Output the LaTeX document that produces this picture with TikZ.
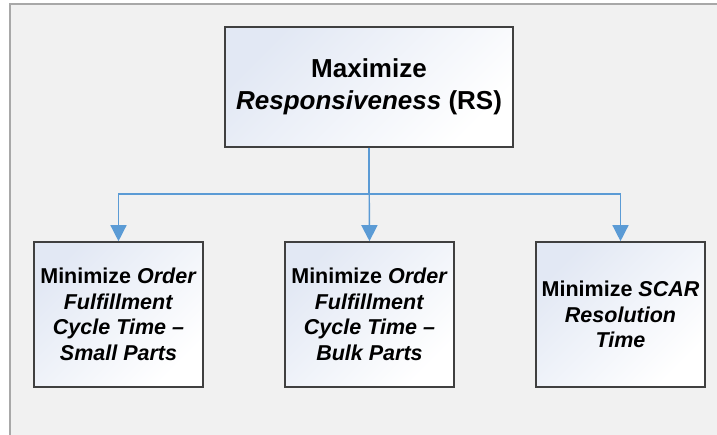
\documentclass[tikz,border=0pt]{standalone}
\usepackage{fontspec}
\setmainfont{Liberation Sans}
\usetikzlibrary{arrows.meta}
\definecolor{panelbg}{HTML}{F1F1F1}
\definecolor{panelrule}{HTML}{A8A8A8}
\definecolor{boxrule}{HTML}{404040}
\definecolor{boxtint}{HTML}{E2E8F4}
\definecolor{linkblue}{HTML}{5B9BD5}
\tikzset{
  goalbox/.style={rectangle, draw=boxrule, line width=1.6pt,
    top color=boxtint, bottom color=white, shading angle=45,
    align=center, inner sep=0pt, text=black},
  topgoal/.style={goalbox, minimum width=288pt, minimum height=120pt,
    font=\bfseries\fontsize{26}{32}\selectfont},
  subgoal/.style={goalbox, minimum width=169pt, minimum height=145pt,
    font=\bfseries\fontsize{21.5}{25.5}\selectfont},
  link/.style={draw=linkblue, line width=1.4pt,
    -{Triangle[length=16pt,width=16pt]}}
}
\begin{document}
\begin{tikzpicture}[x=1pt,y=1pt]
  \useasboundingbox (0,0) rectangle (717,435);
  % background panel, only its top and left edges fall inside the page
  \begin{scope}
    \clip (0,0) rectangle (717,435);
    \draw[panelrule, fill=panelbg, line width=1.2pt] (10,-20) rectangle (740,431);
  \end{scope}

  \node[topgoal] (rs) at (369,348) {Maximize\\\textit{Responsiveness} (RS)};

  \node[subgoal] (small) at (118.5,120.5)
    {Minimize \textit{Order}\\\textit{Fulfillment}\\\textit{Cycle Time –}\\\textit{Small Parts}};
  \node[subgoal] (bulk) at (369.5,120.5)
    {Minimize \textit{Order}\\\textit{Fulfillment}\\\textit{Cycle Time –}\\\textit{Bulk Parts}};
  \node[subgoal] (scar) at (620.5,120.5)
    {Minimize \textit{SCAR}\\\textit{Resolution}\\\textit{Time}};

  \coordinate (bus) at (369,241);
  \draw[link] (rs.south) -- (bus) -| (small.north);
  \draw[link] (rs.south) -- (bus) -| (scar.north);
  \draw[link] (rs.south) -- (bulk.north);
\end{tikzpicture}
\end{document}
